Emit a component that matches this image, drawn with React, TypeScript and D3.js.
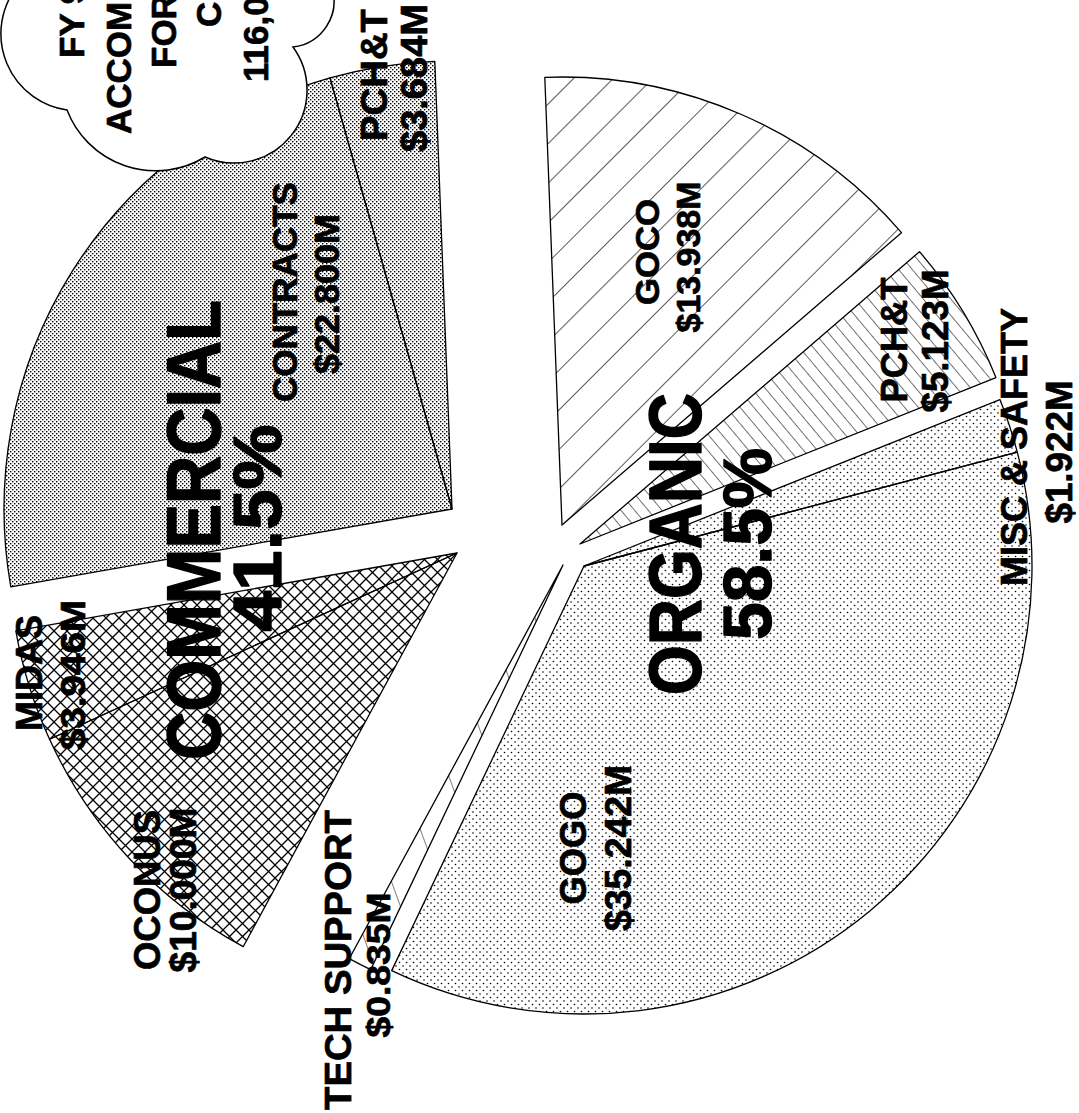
import React from 'react';
import * as d3 from 'd3';

// ---- data ----
const categories = ['GOCO', 'PCH&T', 'MISC & SAFETY', 'GOGO', 'TECH SUPPORT', 'OCONUS', 'MIDAS', 'CONTRACTS', 'PCH&T'];
const groupOf = ['ORGANIC', 'ORGANIC', 'ORGANIC', 'ORGANIC', 'ORGANIC', 'COMMERCIAL', 'COMMERCIAL', 'COMMERCIAL', 'COMMERCIAL'];
const valuesM = [13.938, 5.123, 1.922, 35.242, 0.835, 10.0, 3.946, 22.8, 3.684];
const groupNames = ['ORGANIC', 'COMMERCIAL'];
const cloudLines = ['FY 95 TOTAL', 'ACCOMPLISHMENTS', 'FOR ALL', 'CUSTOMERS', '116,000 HRS'];

// ---- styling / layout ----
const W = 1079, H = 1113;
const R = 448;
const CX = 520, CY = 540;
const START_DEG = -2.2;
const fills = ['hGoco', 'hPcht', 'dSparse', 'dSparse', 'hTech', 'xHatch', 'xHatch', 'dDense', 'dDense'];
// explode offsets of each slice's apex from the pie centre
const explode: [number, number][] = [[42, -15], [60, 4], [64, 26], [64, 26], [43, 25], [-63, 13], [-63, 13], [-68, -31], [-68, -31]];
// label layout: [baselineX, centerY, fontSize, length]
const nameLayout: [number, number, number, number][] = [
  [659, 252, 34, 106], [907, 340, 36, 125], [1027, 447, 36, 278], [586, 848, 36, 113], [351, 960, 37, 300],
  [160, 890, 36, 160], [42, 673, 36, 116], [297, 292, 35, 220], [387, 75, 36, 132],
];
const valueLayout: [number, number, number, number][] = [
  [700, 257, 34, 151], [948, 341, 36, 143], [1072, 452, 36, 143], [631, 848, 36, 166], [390, 965, 34, 145],
  [196, 890, 36, 165], [85, 675, 35, 150], [339, 294, 35, 160], [427, 78, 36, 148],
];
// group headline layout: [baselineX, centerY, fontSize, length] for name and share
const groupLayout: [number, number, number, number][][] = [
  [[701, 544, 74, 302], [771, 544, 68, 192]],
  [[220, 530, 76, 460], [281, 528, 69, 207]],
];
const cloudLayout: [number, number][] = [[84, 58], [131, 134], [176, 68], [221, 27], [268, 82]];

const FONT = '"Liberation Sans", Arial, Helvetica, sans-serif';
const fmtM = (v: number) => `$${d3.format('.3f')(v)}M`;

function RotText({ x, y, size, len, text, anchor = 'middle', weight = 0.7 }: { x: number; y: number; size: number; len?: number; text: string; anchor?: string; weight?: number }) {
  return (
    <text
      transform={`translate(${x},${y}) rotate(-90)`}
      textAnchor={anchor}
      fontFamily={FONT}
      fontWeight="bold"
      fontSize={size}
      fill="#000"
      stroke="#000"
      strokeWidth={weight}
      strokeLinejoin="round"
      {...(len ? { textLength: len, lengthAdjust: 'spacingAndGlyphs' } : {})}
    >
      {text}
    </text>
  );
}

export default function App() {
  const total = d3.sum(valuesM);
  const pie = d3
    .pie<number>()
    .sort(null)
    .value((d) => d)
    .startAngle((START_DEG * Math.PI) / 180)
    .endAngle((START_DEG * Math.PI) / 180 + 2 * Math.PI);
  const arcs = pie(valuesM);
  const arc = d3.arc<d3.PieArcDatum<number>>().innerRadius(0).outerRadius(R);
  const groupShare = groupNames.map((g) =>
    d3.format('.1%')(d3.sum(valuesM.filter((_, i) => groupOf[i] === g)) / total)
  );

  const cloudPath =
    'M 16,-12 A 77 77 0 0 0 67,110 A 95 95 0 0 0 205,157 A 73 73 0 0 0 293,47 A 46 46 0 0 0 332,-12 Z';

  return (
    <svg
      width={W}
      height={H}
      viewBox={`0 0 ${W} ${H}`}
      style={{ position: 'absolute', left: 0, top: 0, background: '#fff' }}
    >
      <defs>
        <pattern id="dDense" width={4} height={4} patternUnits="userSpaceOnUse">
          <rect x={0} y={0} width={1.4} height={1.4} fill="#000" />
          <rect x={2} y={2} width={1.4} height={1.4} fill="#000" />
        </pattern>
        <pattern id="dSparse" width={7} height={7} patternUnits="userSpaceOnUse">
          <circle cx={1} cy={1} r={0.8} fill="#000" />
          <circle cx={4.5} cy={4.5} r={0.8} fill="#000" />
        </pattern>
        <pattern id="xHatch" width={13} height={13} patternUnits="userSpaceOnUse">
          <path d="M0,0 L13,13 M13,0 L0,13" stroke="#000" strokeWidth={1.3} />
        </pattern>
        <pattern id="hGoco" width={28} height={28} patternUnits="userSpaceOnUse" patternTransform="rotate(45)">
          <line x1={0} y1={0} x2={0} y2={28} stroke="#000" strokeWidth={1.3} />
        </pattern>
        <pattern id="hPcht" width={10.5} height={10.5} patternUnits="userSpaceOnUse" patternTransform="rotate(-40)">
          <line x1={0} y1={0} x2={0} y2={10.5} stroke="#000" strokeWidth={1.1} />
        </pattern>
        <pattern id="hTech" width={45} height={45} patternUnits="userSpaceOnUse" patternTransform="rotate(-20)">
          <line x1={0} y1={0} x2={0} y2={45} stroke="#000" strokeWidth={1} />
        </pattern>
      </defs>
      <rect x={0} y={0} width={W} height={H} fill="#fff" />

      <g>
        {arcs.map((a, i) => (
          <path
            key={i}
            d={arc(a) || ''}
            transform={`translate(${CX + explode[i][0]},${CY + explode[i][1]})`}
            fill={`url(#${fills[i]})`}
            stroke="#000"
            strokeWidth={1.3}
            strokeLinejoin="round"
          />
        ))}
      </g>

      <g>
        {categories.map((c, i) => (
          <g key={i}>
            <RotText x={nameLayout[i][0]} y={nameLayout[i][1]} size={nameLayout[i][2]} len={nameLayout[i][3]} text={c} />
            <RotText x={valueLayout[i][0]} y={valueLayout[i][1]} size={valueLayout[i][2]} len={valueLayout[i][3]} text={fmtM(valuesM[i])} />
          </g>
        ))}
        {groupNames.map((g, k) => (
          <g key={g}>
            <RotText x={groupLayout[k][0][0]} y={groupLayout[k][0][1]} size={groupLayout[k][0][2]} len={groupLayout[k][0][3]} text={g} weight={1.4} />
            <RotText x={groupLayout[k][1][0]} y={groupLayout[k][1][1]} size={groupLayout[k][1][2]} len={groupLayout[k][1][3]} text={groupShare[k]} weight={1.4} />
          </g>
        ))}
      </g>

      <g>
        <path d={cloudPath} fill="#fff" stroke="#000" strokeWidth={1.5} />
        {cloudLines.map((t, i) => (
          <RotText key={i} x={cloudLayout[i][0]} y={cloudLayout[i][1]} size={35} text={t} anchor="start" />
        ))}
      </g>
    </svg>
  );
}
